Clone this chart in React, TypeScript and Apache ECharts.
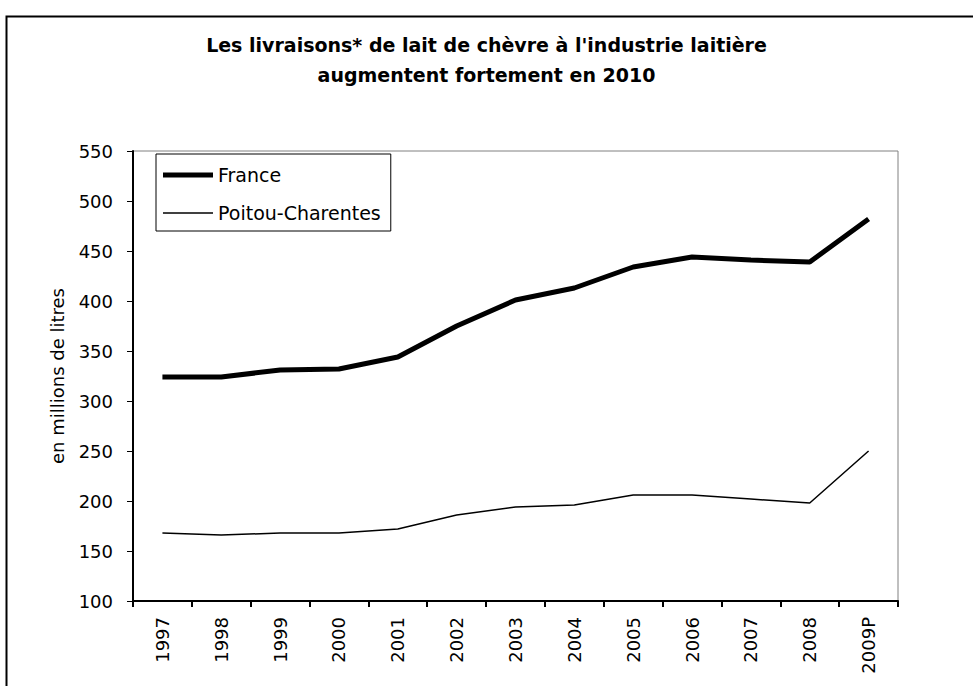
import React, { useEffect, useRef } from "react";
import * as echarts from "echarts";

const categories = ["1997", "1998", "1999", "2000", "2001", "2002", "2003", "2004", "2005", "2006", "2007", "2008", "2009P"];
const franceValues = [324, 324, 331, 332, 344, 375, 401, 413, 434, 444, 441, 439, 482];
const poitouValues = [168, 166, 168, 168, 172, 186, 194, 196, 206, 206, 202, 198, 250];
const titleLines = ["Les livraisons* de lait de chèvre à l'industrie laitière", "augmentent fortement en 2010"];
const yAxisName = "en millions de litres";

const FONT = "DejaVu Sans";

export default function App() {
  const ref = useRef<HTMLDivElement>(null);
  useEffect(() => {
    document.body.style.margin = "0";
    const chart = echarts.init(ref.current!, null, { renderer: "svg" });
    chart.setOption({
      animation: false,
      backgroundColor: "#ffffff",
      title: {
        text: titleLines.join("\n"),
        left: "center",
        top: 30,
        padding: 0,
        textStyle: { fontFamily: FONT, fontSize: 19, fontWeight: "bold", color: "#000", lineHeight: 30 },
      },
      graphic: [
        {
          type: "rect",
          left: 4,
          top: 14,
          shape: { width: 1100, height: 800 },
          style: { fill: "none", stroke: "#000", lineWidth: 2 },
          silent: true,
        },
      ],
      legend: {
        orient: "vertical",
        left: 156,
        top: 154,
        padding: [11, 10, 8, 7],
        itemGap: 18,
        itemWidth: 50,
        itemHeight: 20,
        borderColor: "#000",
        borderWidth: 1,
        itemStyle: { borderWidth: 0 },
        textStyle: { fontFamily: FONT, fontSize: 19, color: "#000", lineHeight: 20 },
        data: [
          { name: "France", icon: "path://M0,0H50V5H0Z" },
          { name: "Poitou-Charentes", icon: "path://M0,0H50V1.5H0Z" },
        ],
      },
      grid: {
        left: 133,
        right: 75,
        top: 151,
        bottom: 85,
        show: true,
        borderColor: "#808080",
        borderWidth: 1,
        backgroundColor: "#fff",
      },
      xAxis: {
        type: "category",
        data: categories,
        boundaryGap: true,
        axisLine: { lineStyle: { color: "#000", width: 2 } },
        axisTick: { show: true, length: 6, alignWithLabel: false, lineStyle: { color: "#000", width: 2 } },
        axisLabel: { interval: 0, rotate: 90, margin: 16, fontFamily: FONT, fontSize: 18, color: "#000" },
        splitLine: { show: false },
      },
      yAxis: {
        type: "value",
        min: 100,
        max: 550,
        interval: 50,
        name: yAxisName,
        nameLocation: "middle",
        nameGap: 67,
        nameTextStyle: { fontFamily: FONT, fontSize: 18, color: "#000" },
        axisLine: { show: true, lineStyle: { color: "#000", width: 2 } },
        axisTick: { show: true, length: 6, lineStyle: { color: "#000", width: 1 } },
        axisLabel: { margin: 20, fontFamily: FONT, fontSize: 18, color: "#000" },
        splitLine: { show: false },
      },
      series: [
        {
          name: "France",
          type: "line",
          data: franceValues,
          symbol: "none",
          symbolKeepAspect: true,
          lineStyle: { color: "#000", width: 5 },
          itemStyle: { color: "#000" },
        },
        {
          name: "Poitou-Charentes",
          type: "line",
          data: poitouValues,
          symbol: "none",
          symbolKeepAspect: true,
          lineStyle: { color: "#000", width: 1.5 },
          itemStyle: { color: "#000" },
        },
      ],
    });
    return () => chart.dispose();
  }, []);
  return <div ref={ref} style={{ width: 973, height: 686 }} />;
}
